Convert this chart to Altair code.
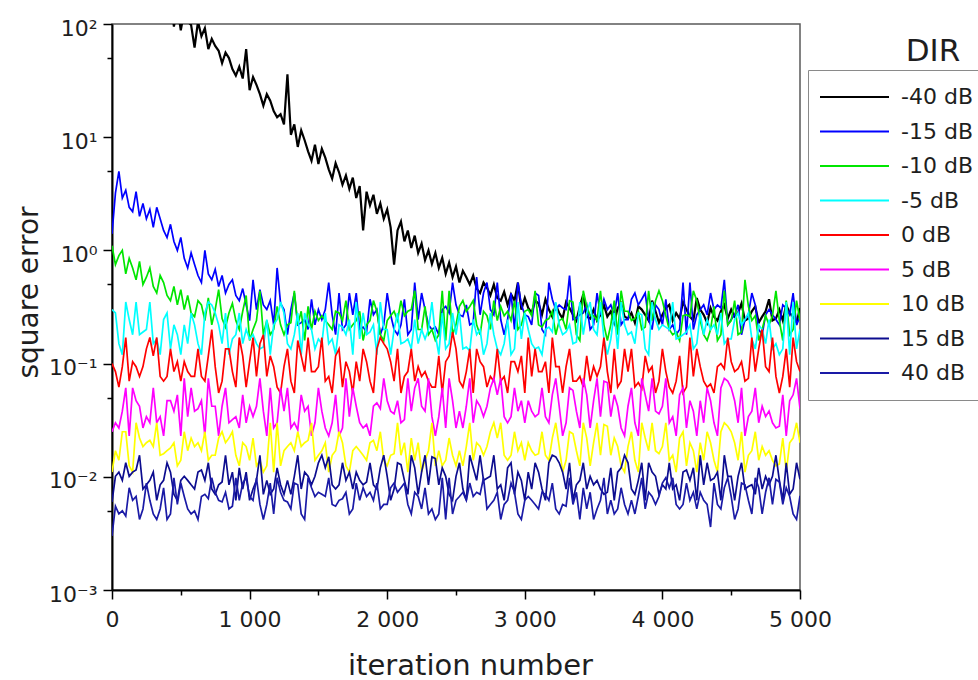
import altair as alt
import pandas as pd

# sampling grid of the iteration axis (one value every 25 iterations)
iterations = list(range(0, 5001, 25))

dir_labels = ["-40 dB", "-15 dB", "-10 dB", "-5 dB", "0 dB", "5 dB", "10 dB", "15 dB", "40 dB"]
line_colors = ["#000000", "#0000ff", "#00e600", "#00ffff", "#ff0000", "#ff00ff", "#ffff00", "#0c0c8f", "#1a1aa6"]

err_m40 = [
    520, 610, 430, 470, 390, 420, 300, 350, 280, 310, 230, 260, 200, 240, 170, 190, 120, 160, 95, 140,
    88, 130, 105, 98, 62, 105, 78, 92, 60, 74, 64, 58, 45, 56, 50, 40, 35, 42, 33, 60,
    26, 34, 29, 24, 19, 24, 21, 17, 15, 16, 13, 36, 10.5, 13, 8.2, 11.5, 9.4, 7.5, 6.2, 8.6,
    5.8, 7.9, 6.6, 5.2, 4.3, 5.9, 4.9, 3.8, 4.6, 3.5, 4.4, 2.9, 3.7, 1.5, 3.3, 2.5, 3.1, 2.1, 2.6, 1.9,
    2.3, 1.6, 0.75, 1.5, 1.8, 1.2, 1.5, 1.05, 1.35, 0.95, 1.15, 0.82, 1.0, 0.76, 0.95, 0.7, 0.86, 0.62, 0.78, 0.58,
    0.72, 0.52, 0.66, 0.58, 0.5, 0.6, 0.46, 0.42, 0.52, 0.47, 0.4, 0.5, 0.38, 0.36, 0.43, 0.33, 0.41, 0.36, 0.52, 0.3,
    0.38, 0.31, 0.28, 0.36, 0.34, 0.27, 0.37, 0.3, 0.26, 0.33, 0.28, 0.25, 0.35, 0.31, 0.27, 0.24, 0.32, 0.41, 0.26, 0.25,
    0.3, 0.24, 0.27, 0.33, 0.26, 0.29, 0.23, 0.31, 0.34, 0.26, 0.25, 0.28, 0.23, 0.32, 0.3, 0.27, 0.24, 0.36, 0.29, 0.23,
    0.27, 0.31, 0.33, 0.24, 0.28, 0.25, 0.35, 0.3, 0.26, 0.24, 0.38, 0.3, 0.27, 0.23, 0.31, 0.26, 0.24, 0.29, 0.33, 0.25,
    0.3, 0.26, 0.28, 0.34, 0.24, 0.25, 0.29, 0.32, 0.23, 0.26, 0.29, 0.37, 0.24, 0.25, 0.3, 0.24, 0.33, 0.28, 0.26, 0.23,
    0.31,
]

err_m15 = [
    1.4, 3.2, 5.0, 2.9, 3.4, 2.4, 2.2, 3.3, 2.0, 2.6, 1.9, 2.3, 1.6, 2.4, 1.9, 1.5, 1.3, 1.7, 1.2, 1.0,
    1.3, 0.85, 0.7, 0.95, 0.75, 0.6, 0.52, 1.0, 0.62, 0.55, 0.68, 0.48, 0.6, 0.42, 0.5, 0.55, 0.4, 0.36, 0.46, 0.33,
    0.24, 0.55, 0.3, 0.45, 0.33, 0.3, 0.36, 0.22, 0.7, 0.34, 0.3, 0.18, 0.3, 0.42, 0.22, 0.23, 0.245, 0.2, 0.37, 0.22,
    0.3, 0.245, 0.3, 0.52, 0.27, 0.18, 0.42, 0.2, 0.22, 0.42, 0.27, 0.42, 0.2, 0.21, 0.19, 0.37, 0.27, 0.3, 0.18, 0.22,
    0.42, 0.27, 0.2, 0.18, 0.22, 0.37, 0.18, 0.2, 0.52, 0.245, 0.42, 0.3, 0.22, 0.2, 0.21, 0.18, 0.3, 0.32, 0.28, 0.52,
    0.33, 0.27, 0.26, 0.33, 0.22, 0.23, 0.58, 0.27, 0.42, 0.52, 0.3, 0.27, 0.52, 0.245, 0.18, 0.245, 0.42, 0.2, 0.52, 0.33,
    0.27, 0.26, 0.22, 0.42, 0.4, 0.2, 0.18, 0.52, 0.37, 0.3, 0.33, 0.31, 0.3, 0.6, 0.245, 0.25, 0.27, 0.28, 0.33, 0.2,
    0.22, 0.42, 0.27, 0.37, 0.3, 0.33, 0.27, 0.42, 0.22, 0.245, 0.245, 0.37, 0.42, 0.33, 0.37, 0.42, 0.245, 0.2, 0.33, 0.3,
    0.22, 0.37, 0.2, 0.22, 0.18, 0.2, 0.52, 0.18, 0.52, 0.2, 0.27, 0.3, 0.33, 0.27, 0.42, 0.3, 0.33, 0.31, 0.55, 0.22,
    0.245, 0.27, 0.33, 0.18, 0.245, 0.27, 0.42, 0.33, 0.2, 0.18, 0.27, 0.3, 0.27, 0.245, 0.22, 0.33, 0.31, 0.27, 0.42, 0.22,
    0.26,
]

err_m10 = [
    1.1, 0.75, 0.9, 1.0, 0.62, 0.85, 0.7, 0.55, 0.8, 0.5, 0.58, 0.7, 0.48, 0.42, 0.6, 0.52, 0.4, 0.36, 0.48, 0.33,
    0.45, 0.3, 0.4, 0.28, 0.26, 0.36, 0.33, 0.24, 0.38, 0.22, 0.3, 0.45, 0.25, 0.21, 0.28, 0.34, 0.24, 0.2, 0.29, 0.4,
    0.16, 0.2, 0.24, 0.44, 0.18, 0.24, 0.18, 0.2, 0.32, 0.22, 0.18, 0.22, 0.23, 0.44, 0.22, 0.29, 0.16, 0.32, 0.2, 0.29,
    0.24, 0.265, 0.24, 0.22, 0.2, 0.29, 0.28, 0.24, 0.36, 0.2, 0.22, 0.24, 0.29, 0.16, 0.22, 0.24, 0.36, 0.29, 0.18, 0.16,
    0.24, 0.265, 0.29, 0.24, 0.36, 0.265, 0.29, 0.3, 0.44, 0.2, 0.2, 0.32, 0.18, 0.2, 0.16, 0.18, 0.44, 0.16, 0.44, 0.18,
    0.22, 0.32, 0.36, 0.29, 0.32, 0.36, 0.22, 0.18, 0.29, 0.265, 0.2, 0.36, 0.24, 0.32, 0.265, 0.29, 0.24, 0.36, 0.2, 0.22,
    0.29, 0.3, 0.265, 0.44, 0.22, 0.21, 0.24, 0.25, 0.29, 0.18, 0.24, 0.25, 0.2, 0.36, 0.35, 0.18, 0.16, 0.44, 0.32, 0.265,
    0.265, 0.24, 0.44, 0.22, 0.16, 0.22, 0.36, 0.18, 0.44, 0.29, 0.29, 0.24, 0.25, 0.29, 0.2, 0.21, 0.44, 0.24, 0.36, 0.44,
    0.36, 0.265, 0.2, 0.18, 0.19, 0.16, 0.265, 0.27, 0.26, 0.44, 0.36, 0.24, 0.18, 0.16, 0.2, 0.32, 0.16, 0.18, 0.44, 0.22,
    0.24, 0.36, 0.18, 0.19, 0.55, 0.32, 0.24, 0.265, 0.16, 0.2, 0.265, 0.22, 0.265, 0.44, 0.24, 0.16, 0.36, 0.18, 0.2, 0.36,
    0.24,
]

err_m5 = [
    0.3, 0.28, 0.15, 0.12, 0.35, 0.245, 0.18, 0.35, 0.18, 0.19, 0.2, 0.35, 0.15, 0.165, 0.12, 0.245, 0.28, 0.135, 0.22, 0.18,
    0.12, 0.22, 0.15, 0.28, 0.22, 0.15, 0.12, 0.28, 0.35, 0.33, 0.28, 0.22, 0.15, 0.28, 0.12, 0.165, 0.18, 0.28, 0.15, 0.2,
    0.165, 0.18, 0.15, 0.135, 0.14, 0.245, 0.12, 0.22, 0.245, 0.35, 0.28, 0.15, 0.135, 0.18, 0.28, 0.12, 0.28, 0.22, 0.2, 0.135,
    0.165, 0.15, 0.28, 0.15, 0.165, 0.12, 0.22, 0.21, 0.18, 0.245, 0.12, 0.35, 0.165, 0.28, 0.18, 0.19, 0.22, 0.12, 0.35, 0.2,
    0.2, 0.12, 0.2, 0.28, 0.15, 0.155, 0.165, 0.135, 0.245, 0.15, 0.2, 0.165, 0.2, 0.35, 0.18, 0.12, 0.28, 0.135, 0.15, 0.28,
    0.18, 0.28, 0.135, 0.14, 0.13, 0.245, 0.18, 0.2, 0.12, 0.15, 0.28, 0.18, 0.135, 0.12, 0.15, 0.245, 0.12, 0.135, 0.35, 0.165,
    0.28, 0.2, 0.15, 0.135, 0.14, 0.12, 0.2, 0.21, 0.19, 0.35, 0.22, 0.18, 0.19, 0.22, 0.15, 0.155, 0.35, 0.18, 0.28, 0.35,
    0.2, 0.18, 0.35, 0.165, 0.12, 0.165, 0.28, 0.135, 0.35, 0.22, 0.18, 0.19, 0.15, 0.28, 0.27, 0.135, 0.12, 0.35, 0.245, 0.2,
    0.22, 0.21, 0.2, 0.35, 0.165, 0.17, 0.18, 0.19, 0.22, 0.135, 0.15, 0.28, 0.18, 0.245, 0.2, 0.22, 0.18, 0.28, 0.15, 0.165,
    0.165, 0.245, 0.28, 0.22, 0.245, 0.28, 0.165, 0.135, 0.22, 0.2, 0.15, 0.245, 0.135, 0.15, 0.12, 0.135, 0.35, 0.12, 0.35, 0.135,
    0.2,
]

err_0 = [
    0.1, 0.085, 0.062, 0.094, 0.17, 0.07, 0.104, 0.094, 0.077, 0.094, 0.135, 0.17, 0.117, 0.17, 0.077, 0.07, 0.077, 0.135, 0.085, 0.104,
    0.07, 0.104, 0.085, 0.077, 0.077, 0.135, 0.077, 0.07, 0.117, 0.2, 0.094, 0.055, 0.07, 0.135, 0.135, 0.085, 0.062, 0.17, 0.117, 0.062,
    0.104, 0.17, 0.077, 0.15, 0.18, 0.077, 0.117, 0.094, 0.062, 0.055, 0.094, 0.135, 0.07, 0.055, 0.16, 0.117, 0.085, 0.17, 0.085, 0.085,
    0.094, 0.17, 0.07, 0.077, 0.055, 0.117, 0.135, 0.062, 0.104, 0.085, 0.055, 0.104, 0.07, 0.135, 0.104, 0.07, 0.055, 0.135, 0.17, 0.15,
    0.135, 0.104, 0.07, 0.135, 0.055, 0.077, 0.085, 0.135, 0.07, 0.094, 0.077, 0.085, 0.07, 0.062, 0.062, 0.117, 0.055, 0.104, 0.117, 0.19,
    0.135, 0.07, 0.062, 0.085, 0.135, 0.055, 0.135, 0.104, 0.094, 0.062, 0.077, 0.07, 0.135, 0.07, 0.077, 0.055, 0.104, 0.104, 0.085, 0.117,
    0.055, 0.17, 0.077, 0.135, 0.085, 0.085, 0.104, 0.055, 0.17, 0.094, 0.094, 0.055, 0.094, 0.135, 0.07, 0.07, 0.077, 0.062, 0.117, 0.07,
    0.094, 0.077, 0.094, 0.17, 0.085, 0.055, 0.135, 0.062, 0.07, 0.135, 0.085, 0.135, 0.062, 0.068, 0.06, 0.117, 0.085, 0.094, 0.055, 0.07,
    0.135, 0.085, 0.062, 0.055, 0.07, 0.117, 0.055, 0.062, 0.17, 0.077, 0.135, 0.094, 0.07, 0.062, 0.066, 0.055, 0.094, 0.1, 0.09, 0.17,
    0.104, 0.085, 0.09, 0.104, 0.07, 0.074, 0.17, 0.085, 0.135, 0.2, 0.094, 0.085, 0.17, 0.077, 0.055, 0.077, 0.135, 0.062, 0.17, 0.104,
    0.085,
]

err_5 = [
    0.025, 0.03, 0.027, 0.038, 0.061, 0.023, 0.061, 0.047, 0.042, 0.027, 0.034, 0.03, 0.061, 0.03, 0.034, 0.023, 0.047, 0.047, 0.038, 0.053,
    0.023, 0.074, 0.034, 0.061, 0.038, 0.04, 0.047, 0.023, 0.074, 0.042, 0.042, 0.023, 0.042, 0.061, 0.03, 0.032, 0.034, 0.027, 0.053, 0.03,
    0.042, 0.034, 0.042, 0.074, 0.038, 0.023, 0.061, 0.027, 0.03, 0.061, 0.038, 0.061, 0.027, 0.03, 0.026, 0.053, 0.038, 0.042, 0.023, 0.03,
    0.061, 0.038, 0.027, 0.023, 0.03, 0.053, 0.023, 0.027, 0.074, 0.034, 0.061, 0.042, 0.03, 0.027, 0.029, 0.023, 0.042, 0.045, 0.04, 0.074,
    0.047, 0.038, 0.036, 0.047, 0.03, 0.032, 0.074, 0.038, 0.061, 0.074, 0.042, 0.038, 0.074, 0.034, 0.023, 0.034, 0.061, 0.027, 0.074, 0.047,
    0.027, 0.038, 0.027, 0.042, 0.074, 0.03, 0.047, 0.042, 0.034, 0.042, 0.061, 0.074, 0.053, 0.074, 0.034, 0.03, 0.034, 0.061, 0.038, 0.047,
    0.03, 0.047, 0.038, 0.034, 0.036, 0.061, 0.034, 0.03, 0.053, 0.074, 0.042, 0.023, 0.03, 0.061, 0.058, 0.038, 0.027, 0.074, 0.053, 0.027,
    0.047, 0.074, 0.034, 0.07, 0.068, 0.034, 0.053, 0.042, 0.027, 0.023, 0.042, 0.061, 0.03, 0.023, 0.074, 0.053, 0.038, 0.074, 0.038, 0.036,
    0.042, 0.074, 0.03, 0.034, 0.023, 0.053, 0.061, 0.027, 0.047, 0.038, 0.023, 0.047, 0.03, 0.061, 0.047, 0.03, 0.023, 0.061, 0.074, 0.07,
    0.061, 0.047, 0.03, 0.061, 0.023, 0.034, 0.038, 0.061, 0.03, 0.042, 0.034, 0.038, 0.03, 0.027, 0.028, 0.053, 0.023, 0.047, 0.053, 0.074,
    0.04,
]

err_10 = [
    0.011, 0.017, 0.014, 0.025, 0.025, 0.0125, 0.011, 0.03, 0.022, 0.0185, 0.02, 0.021, 0.0185, 0.03, 0.0155, 0.016, 0.017, 0.018, 0.02, 0.0125,
    0.014, 0.025, 0.017, 0.022, 0.0185, 0.02, 0.017, 0.025, 0.014, 0.0155, 0.0155, 0.022, 0.025, 0.02, 0.022, 0.025, 0.0155, 0.0125, 0.02, 0.0185,
    0.014, 0.022, 0.0125, 0.014, 0.011, 0.0125, 0.03, 0.011, 0.03, 0.0125, 0.017, 0.0185, 0.02, 0.017, 0.025, 0.0185, 0.02, 0.021, 0.03, 0.014,
    0.0155, 0.017, 0.02, 0.011, 0.0155, 0.017, 0.025, 0.02, 0.0125, 0.011, 0.017, 0.0185, 0.017, 0.0155, 0.014, 0.02, 0.021, 0.017, 0.025, 0.014,
    0.0125, 0.0155, 0.016, 0.03, 0.0155, 0.02, 0.011, 0.022, 0.014, 0.02, 0.011, 0.014, 0.017, 0.03, 0.0125, 0.017, 0.0125, 0.014, 0.022, 0.0155,
    0.0125, 0.017, 0.0125, 0.0185, 0.03, 0.014, 0.02, 0.0185, 0.0155, 0.0185, 0.025, 0.03, 0.022, 0.03, 0.0155, 0.014, 0.0155, 0.025, 0.017, 0.02,
    0.014, 0.02, 0.017, 0.0155, 0.016, 0.025, 0.0155, 0.014, 0.022, 0.03, 0.0185, 0.011, 0.014, 0.025, 0.024, 0.017, 0.0125, 0.03, 0.022, 0.0125,
    0.02, 0.03, 0.0155, 0.029, 0.028, 0.0155, 0.022, 0.0185, 0.0125, 0.011, 0.0185, 0.025, 0.014, 0.011, 0.03, 0.022, 0.017, 0.03, 0.017, 0.016,
    0.0185, 0.03, 0.014, 0.0155, 0.011, 0.022, 0.025, 0.0125, 0.02, 0.017, 0.011, 0.02, 0.014, 0.025, 0.02, 0.014, 0.011, 0.025, 0.03, 0.028,
    0.025, 0.02, 0.014, 0.025, 0.011, 0.0155, 0.017, 0.025, 0.014, 0.0185, 0.0155, 0.017, 0.014, 0.0125, 0.013, 0.022, 0.011, 0.02, 0.022, 0.03,
    0.02,
]

err_15 = [
    0.006, 0.0101, 0.011, 0.0093, 0.0133, 0.0101, 0.011, 0.0115, 0.0155, 0.0078, 0.0085, 0.0093, 0.011, 0.0062, 0.0085, 0.0093, 0.0133, 0.011, 0.007, 0.0062,
    0.0093, 0.0101, 0.0093, 0.0085, 0.0078, 0.011, 0.0115, 0.0093, 0.0133, 0.0078, 0.007, 0.0085, 0.009, 0.0155, 0.0085, 0.011, 0.0062, 0.012, 0.0078, 0.011,
    0.0062, 0.0078, 0.0093, 0.0155, 0.007, 0.0093, 0.007, 0.0078, 0.012, 0.0085, 0.007, 0.0093, 0.007, 0.0101, 0.0155, 0.0078, 0.011, 0.0101, 0.0085, 0.0101,
    0.0133, 0.0155, 0.012, 0.015, 0.0085, 0.0078, 0.0085, 0.0133, 0.0093, 0.011, 0.0078, 0.011, 0.0093, 0.0085, 0.009, 0.0133, 0.0085, 0.0078, 0.012, 0.0155,
    0.0101, 0.0062, 0.0078, 0.0133, 0.0128, 0.0093, 0.007, 0.0155, 0.012, 0.007, 0.011, 0.0155, 0.0085, 0.015, 0.0145, 0.0085, 0.012, 0.0101, 0.007, 0.0062,
    0.0101, 0.0133, 0.0078, 0.0062, 0.0155, 0.012, 0.0093, 0.0155, 0.0093, 0.0097, 0.0101, 0.0155, 0.0078, 0.0085, 0.0062, 0.012, 0.0133, 0.007, 0.011, 0.0093,
    0.0062, 0.011, 0.0078, 0.0133, 0.011, 0.0078, 0.0062, 0.0133, 0.0155, 0.015, 0.0133, 0.011, 0.0078, 0.0133, 0.0062, 0.0085, 0.0093, 0.0133, 0.0078, 0.0101,
    0.0085, 0.0093, 0.0078, 0.007, 0.0073, 0.012, 0.0062, 0.011, 0.012, 0.0155, 0.0133, 0.0078, 0.007, 0.0093, 0.0133, 0.0062, 0.0133, 0.011, 0.0101, 0.007,
    0.0085, 0.0078, 0.0133, 0.0078, 0.0085, 0.0062, 0.011, 0.0115, 0.0093, 0.012, 0.0062, 0.0155, 0.0085, 0.0133, 0.0093, 0.0097, 0.011, 0.0062, 0.0155, 0.0101,
    0.0101, 0.0062, 0.0101, 0.0133, 0.0078, 0.0082, 0.0085, 0.007, 0.012, 0.0078, 0.0101, 0.0085, 0.0101, 0.0155, 0.0093, 0.0062, 0.0133, 0.007, 0.0078, 0.0133,
    0.0095,
]

err_40 = [
    0.003, 0.0055, 0.0047, 0.005, 0.0045, 0.008, 0.0062, 0.0067, 0.0042, 0.0052, 0.0088, 0.0062, 0.0047, 0.0042, 0.0052, 0.008, 0.0042, 0.0047, 0.0098, 0.0057,
    0.0088, 0.0067, 0.0052, 0.0047, 0.005, 0.0042, 0.0067, 0.007, 0.0064, 0.0098, 0.0073, 0.0062, 0.006, 0.0073, 0.0052, 0.0055, 0.0098, 0.0062, 0.0088, 0.0098,
    0.0067, 0.0062, 0.0098, 0.0057, 0.0042, 0.0057, 0.0088, 0.0047, 0.0098, 0.0073, 0.0062, 0.006, 0.0052, 0.0088, 0.0085, 0.0047, 0.0042, 0.0098, 0.008, 0.0067,
    0.0073, 0.007, 0.0067, 0.0098, 0.0057, 0.0055, 0.0062, 0.0064, 0.0073, 0.0047, 0.0052, 0.0088, 0.0062, 0.008, 0.0067, 0.0073, 0.0062, 0.0088, 0.0052, 0.0057,
    0.0057, 0.008, 0.0088, 0.0073, 0.008, 0.0088, 0.0057, 0.0047, 0.0073, 0.0067, 0.0052, 0.008, 0.0047, 0.0052, 0.0042, 0.0047, 0.0098, 0.0042, 0.0098, 0.0047,
    0.0062, 0.0067, 0.0073, 0.0062, 0.0088, 0.0067, 0.0073, 0.007, 0.0098, 0.0052, 0.0057, 0.0062, 0.0073, 0.0042, 0.0057, 0.0062, 0.0088, 0.0073, 0.0047, 0.0042,
    0.0062, 0.0067, 0.0062, 0.0057, 0.0052, 0.0073, 0.007, 0.0062, 0.0088, 0.0052, 0.0047, 0.0057, 0.0055, 0.0098, 0.0057, 0.0073, 0.0042, 0.008, 0.0052, 0.0073,
    0.0042, 0.0052, 0.0062, 0.0098, 0.0047, 0.0062, 0.0047, 0.0052, 0.008, 0.0057, 0.0047, 0.0062, 0.0047, 0.0067, 0.0098, 0.0052, 0.0073, 0.0067, 0.0057, 0.0067,
    0.0088, 0.0098, 0.008, 0.0098, 0.0057, 0.0052, 0.0057, 0.0088, 0.0062, 0.0073, 0.0052, 0.0073, 0.0062, 0.0057, 0.0036, 0.0088, 0.0057, 0.0052, 0.008, 0.0098,
    0.0067, 0.0042, 0.0052, 0.0088, 0.0085, 0.0062, 0.0047, 0.0098, 0.008, 0.0047, 0.0073, 0.0098, 0.0057, 0.0095, 0.009, 0.0057, 0.008, 0.0067, 0.0047, 0.0042,
    0.0068,
]

series = [err_m40, err_m15, err_m10, err_m5, err_0, err_5, err_10, err_15, err_40]

x_ticks = [0, 500, 1000, 1500, 2000, 2500, 3000, 3500, 4000, 4500, 5000]
y_ticks = [0.001, 0.005, 0.01, 0.05, 0.1, 0.5, 1, 5, 10, 50, 100]

records = []
for lab, vals in zip(dir_labels, series):
    for it, v in zip(iterations, vals):
        records.append({"iteration": it, "square_error": v, "DIR": lab})
df = pd.DataFrame(records)

FONT = "DejaVu Sans"
TXT = "#1e1e1e"

x_label_expr = "datum.value % 1000 === 0 ? replace(format(datum.value, ','), ',', ' ') : ''"
y_label_expr = (
    "datum.value === 100 ? '10\u00b2' : datum.value === 10 ? '10\u00b9' : "
    "datum.value === 1 ? '10\u2070' : datum.value === 0.1 ? '10\u207b\u00b9' : "
    "datum.value === 0.01 ? '10\u207b\u00b2' : datum.value === 0.001 ? '10\u207b\u00b3' : ''"
)

x_axis = alt.Axis(
    values=x_ticks,
    labelExpr=x_label_expr,
    title="iteration number",
    titleFont=FONT, titleFontSize=29, titleFontWeight="normal", titleColor=TXT,
    titleX=358, titleY=84, titleBaseline="alphabetic", titleAlign="center",
    labelFont=FONT, labelFontSize=22, labelColor=TXT, labelPadding=10,
    labelFlush=False, labelOverlap=False,
    tickSize={"condition": {"test": "datum.value % 1000 === 0", "value": 9}, "value": 5},
    tickColor="#000000", tickWidth=1.5,
    domainColor="#000000", domainWidth=2, grid=False,
)

y_axis = alt.Axis(
    values=y_ticks,
    labelExpr=y_label_expr,
    title="square error",
    titleFont=FONT, titleFontSize=28, titleFontWeight="normal", titleColor=TXT,
    titleX=-75, titleY=268, titleAngle=270, titleBaseline="alphabetic", titleAlign="center",
    labelFont=FONT, labelFontSize=22, labelColor=TXT, labelPadding=6, labelOffset=4,
    labelFlush=False, labelOverlap=False,
    tickSize={"condition": {"test": "indexof([0.001, 0.01, 0.1, 1, 10, 100], datum.value) >= 0", "value": 9}, "value": 5},
    tickColor="#000000", tickWidth=1.5,
    domainColor="#000000", domainWidth=2, grid=False,
)

legend = alt.Legend(
    title=None,
    orient="none", legendX=696, legendY=46, direction="vertical",
    symbolType="stroke", symbolSize=4761, symbolStrokeWidth=2,
    clipHeight=32, rowPadding=2.5, padding=11,
    labelFont=FONT, labelFontSize=22, labelColor=TXT, labelOffset=11, labelLimit=300,
    strokeColor="#8a8a8a", fillColor="#ffffff",
)

lines = alt.Chart(df).mark_line(clip=True).encode(
    x=alt.X("iteration:Q", scale=alt.Scale(domain=[0, 5000], nice=False, zero=False), axis=x_axis),
    y=alt.Y("square_error:Q", scale=alt.Scale(type="log", domain=[0.001, 100], nice=False), axis=y_axis),
    color=alt.Color("DIR:N", scale=alt.Scale(domain=dir_labels, range=line_colors), sort=dir_labels, legend=legend),
    strokeWidth=alt.condition(alt.datum.DIR == "-40 dB", alt.value(2.2), alt.value(1.7)),
)

dir_title = alt.Chart(pd.DataFrame({"t": ["DIR"]})).mark_text(
    font=FONT, fontSize=31, color=TXT, align="center", baseline="alphabetic"
).encode(
    x=alt.value(821), y=alt.value(37), text="t:N"
)

chart = alt.layer(lines, dir_title).properties(
    width=688, height=566,
    autosize=alt.AutoSizeParams(type="none"),
    padding={"left": 112, "top": 24, "right": 178, "bottom": 90},
    background="#ffffff",
).configure_view(
    stroke="#5a5a5a", strokeWidth=1.5
)

chart.save("out.html", embed_options={"renderer": "svg", "actions": False})
